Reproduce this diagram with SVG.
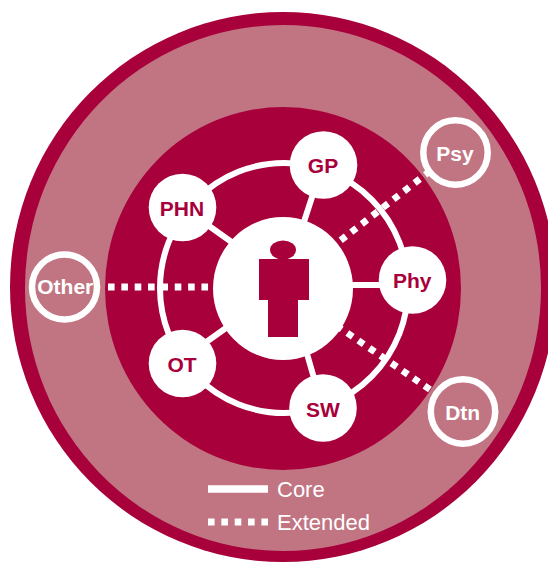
<svg xmlns="http://www.w3.org/2000/svg" width="548" height="563" viewBox="0 0 548 563">
<style>
text{font-family:"Liberation Sans",Arial,sans-serif}
.core{fill:none;stroke:#fff;stroke-width:6}
.ext{fill:none;stroke:#fff;stroke-width:6.8;stroke-dasharray:6.6 6.75}
.n{fill:#fff}
.o{fill:#c17583;stroke:#fff;stroke-width:6.5}
.l{font-size:21px;font-weight:bold;text-anchor:middle}
.dk{fill:#a8003b}
.lt{fill:#fff}
.leg{font-size:22px;fill:#fff}
</style>
<rect width="548" height="563" fill="#fff"/>
<ellipse cx="283" cy="287" rx="273" ry="275" fill="#a8003b"/>
<ellipse cx="283" cy="288" rx="258" ry="263" fill="#c17583"/>
<ellipse cx="283" cy="288.500" rx="178" ry="181.500" fill="#a8003b"/>
<g id="connectors">
<ellipse class="core" cx="284" cy="288" rx="124" ry="125"/>
<path class="core" d="M316 185L298 240M195 216L240 248M350 285H390M195 350L240 318M303 340L316 385"/>
<path class="ext" d="M108 287H214"/>
<path class="ext" d="M340.700 240.300L431 170.300"/>
<path class="ext" d="M336.300 325.500L431 390.200"/>
</g>
<g id="patient">
<ellipse class="n" cx="283" cy="288.500" rx="70" ry="71.500"/>
<ellipse class="dk" cx="283" cy="250" rx="13" ry="9.500"/>
<path class="dk" d="M259 259H309V300H298V337H268V300H259Z"/>
</g>
<g id="GP"><circle class="n" cx="323.500" cy="165" r="33.800"/><text class="l dk" x="323" y="172.500">GP</text></g>
<g id="PHN"><circle class="n" cx="182.500" cy="207.500" r="33.800"/><text class="l dk" x="182" y="215.500">PHN</text></g>
<g id="Phy"><circle class="n" cx="412.500" cy="280" r="33.800"/><text class="l dk" x="412.300" y="288">Phy</text></g>
<g id="OT"><circle class="n" cx="182.500" cy="363.500" r="33.800"/><text class="l dk" x="182" y="371.500">OT</text></g>
<g id="SW"><circle class="n" cx="323" cy="408" r="33.800"/><text class="l dk" x="323" y="417">SW</text></g>
<g id="Psy"><circle class="o" cx="455.500" cy="152.500" r="32.200"/><text class="l lt" x="455" y="160.500">Psy</text></g>
<g id="Dtn"><circle class="o" cx="463" cy="411.500" r="32.200"/><text class="l lt" x="462.700" y="420">Dtn</text></g>
<g id="Other"><circle class="o" cx="64.500" cy="287" r="32.500"/><text class="l lt" x="65.300" y="294">Other</text></g>
<g id="legend">
<path class="core" style="stroke-width:7.500" d="M208 489H268"/>
<path class="ext" d="M208 522H268"/>
<text class="leg" x="277" y="496.500">Core</text>
<text class="leg" x="277" y="529.700">Extended</text>
</g>
</svg>
